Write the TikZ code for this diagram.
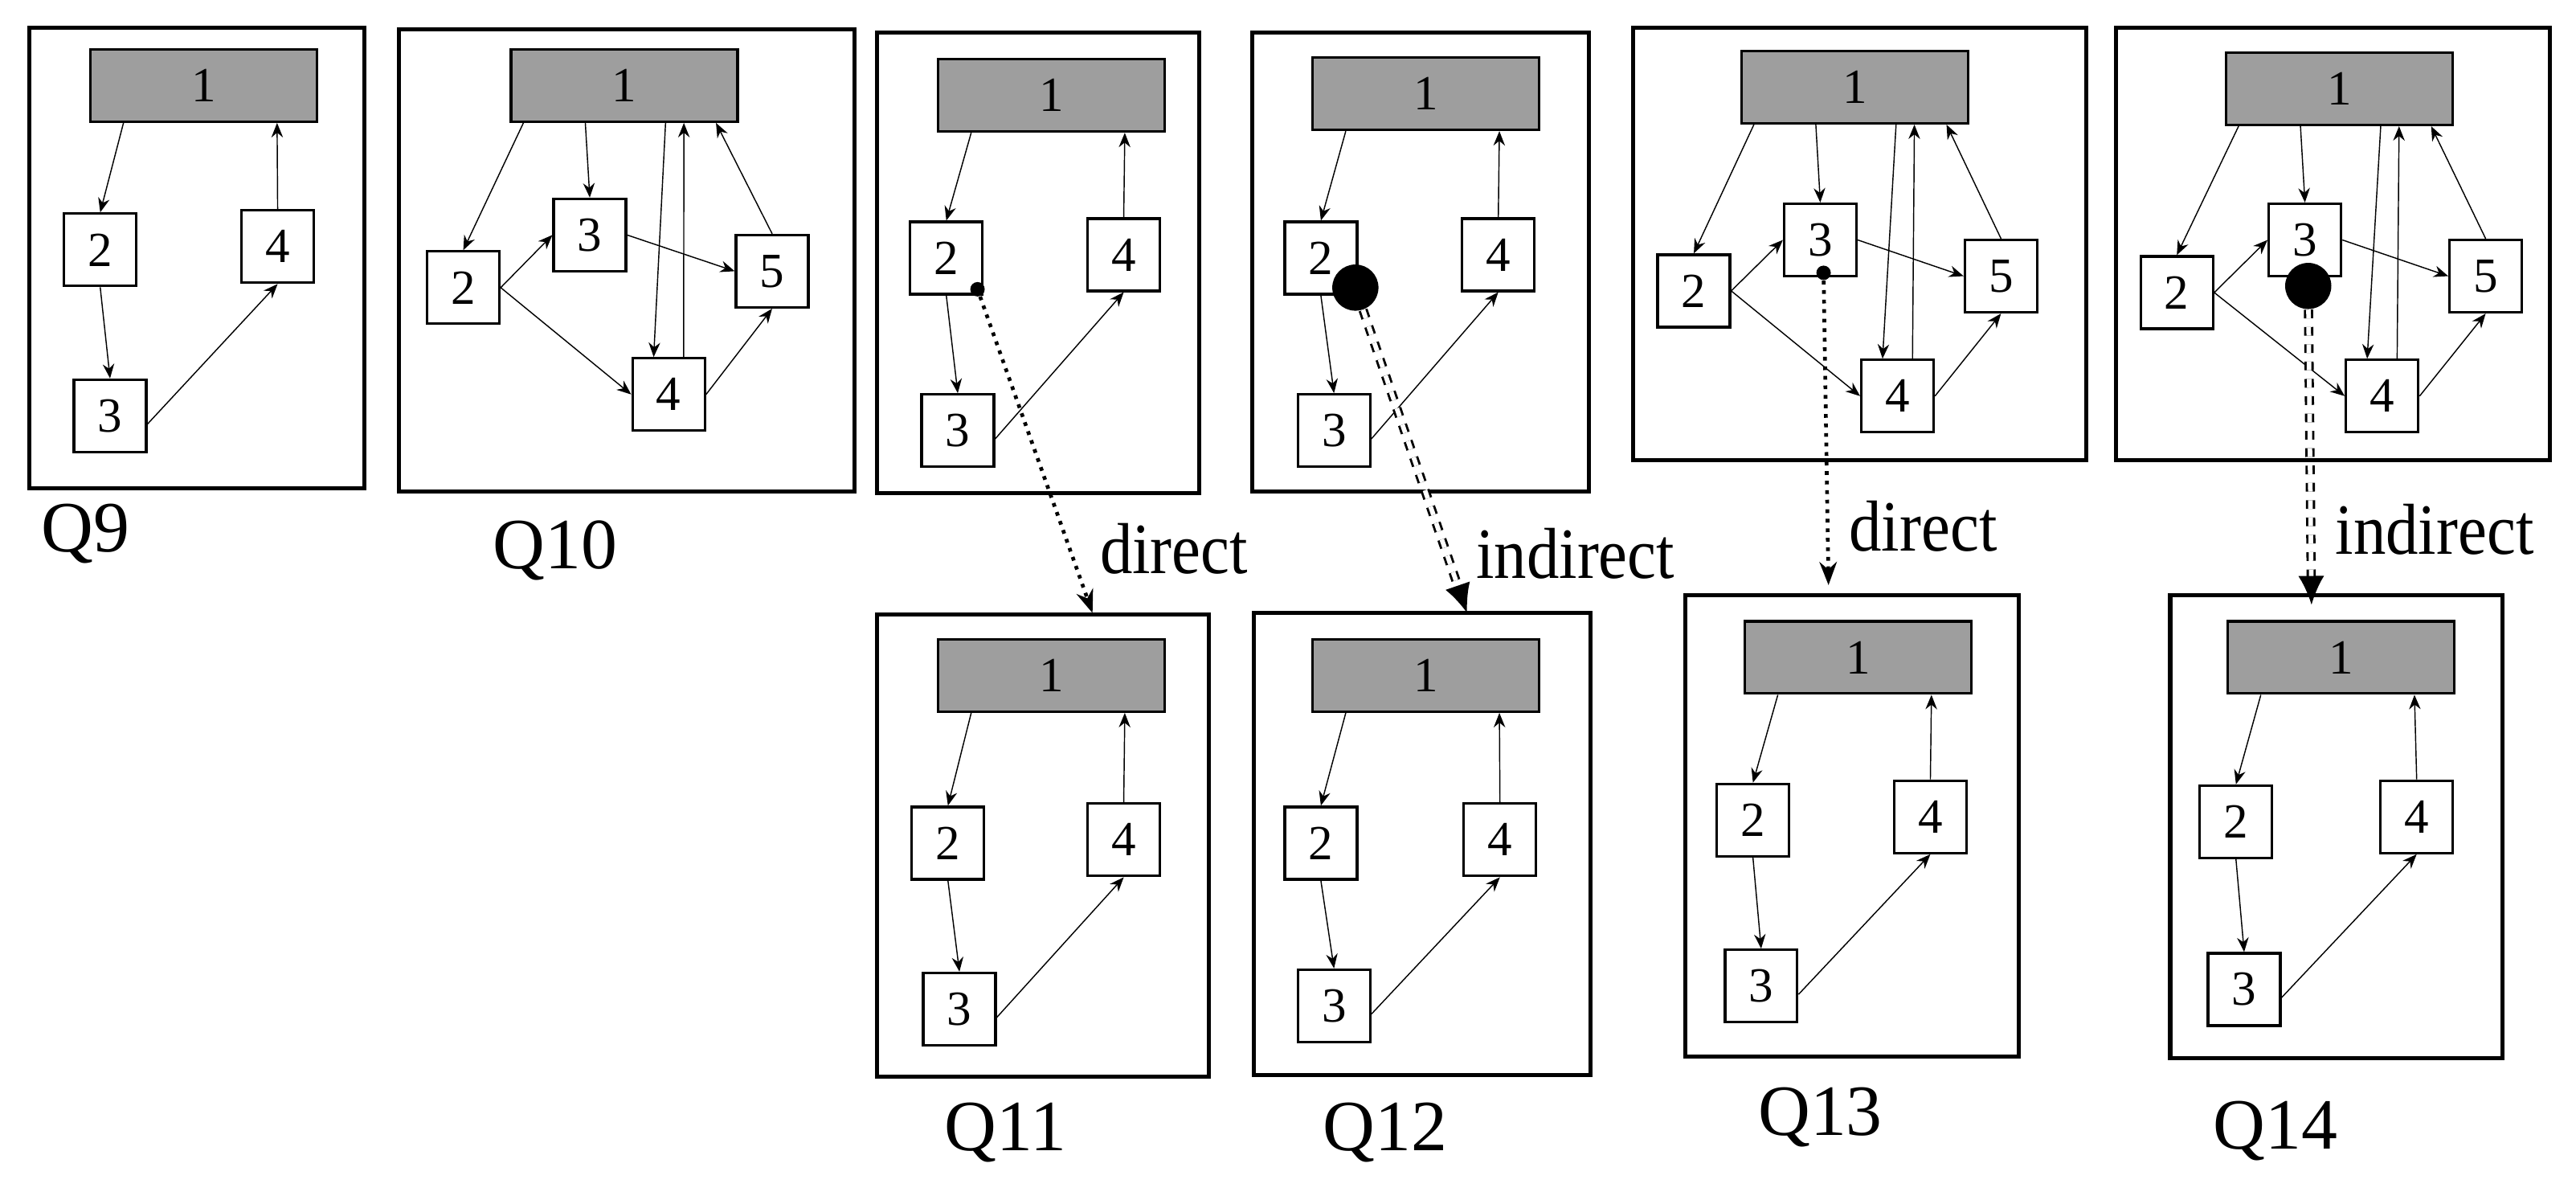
\documentclass[tikz,border=0pt]{standalone}
\usepackage{fontspec}
\setmainfont{Liberation Serif}
\usetikzlibrary{arrows.meta,calc}
\begin{document}
\begin{tikzpicture}[x=0.02cm,y=-0.02cm,
  frame/.style={draw,line width=1.4pt},
  big/.style={draw,line width=0.9pt,fill=black!38,minimum width=2.76cm,minimum height=0.88cm,font=\fontsize{17}{17}\selectfont},
  sm/.style={draw,line width=0.9pt,fill=white,minimum width=0.88cm,minimum height=0.88cm,font=\fontsize{17}{17}\selectfont},
  ed/.style={-{Stealth[length=5pt,width=4pt]},line width=0.4pt},
  qlab/.style={font=\fontsize{25}{25}\selectfont},
  rlab/.style={font=\fontsize{25}{25}\selectfont,anchor=west,xscale=0.9},
  dir/.style={line width=1.3pt,dotted,-{Stealth[length=8pt,width=6pt]}},
  ind/.style={double,double distance=1.6pt,line width=0.8pt,dashed,-{Latex[length=10pt,width=9pt]}},
  ]
\useasboundingbox (0,0) rectangle (1568,725);
\newcommand{\fourq}[9]{% prefix, fx1,fy1,fx2,fy2, c1, c2, c3, c4
  \draw[frame] (#2,#3) rectangle (#4,#5);
  \node[big] (#1a) at (#6) {1};
  \node[sm] (#1b) at (#7) {2};
  \node[sm] (#1c) at (#8) {3};
  \node[sm] (#1d) at (#9) {4};
  \draw[ed] ($(#1a.south west)!0.15!(#1a.south east)$) -- (#1b.north);
  \draw[ed] (#1b.south) -- (#1c.north);
  \draw[ed] (#1c.east) ++(0,5) -- (#1d.south);
  \draw[ed] (#1d.north) -- ($(#1a.south west)!0.82!(#1a.south east)$);
}
\newcommand{\fiveq}[9]{%
  \draw[frame] (#2,#3) rectangle (#4,#5);
  \node[big] (#1a) at (#6) {1};
  \node[sm] (#1b) at (#7) {2};
  \node[sm] (#1c) at (#8) {3};
  \node[sm] (#1d) at (#9) {4};
}
\newcommand{\fiveedges}[2]{%
  \node[sm] (#1e) at (#2) {5};
  \draw[ed] ($(#1a.south west)!0.06!(#1a.south east)$) -- (#1b.north);
  \draw[ed] ($(#1a.south west)!0.33!(#1a.south east)$) -- (#1c.north);
  \draw[ed] ($(#1a.south west)!0.68!(#1a.south east)$) -- ($(#1d.north west)!0.3!(#1d.north east)$);
  \draw[ed] ($(#1d.north west)!0.7!(#1d.north east)$) -- ($(#1a.south west)!0.76!(#1a.south east)$);
  \draw[ed] (#1e.north) -- ($(#1a.south west)!0.9!(#1a.south east)$);
  \draw[ed] (#1b.east) -- (#1c.west);
  \draw[ed] (#1b.east) -- (#1d.west);
  \draw[ed] (#1c.east) -- (#1e.west);
  \draw[ed] (#1d.east) -- (#1e.south);
}
% Q9
\fourq{n}{18}{17}{222}{297}{124,52}{61,152}{67,253}{169,150}
\node[qlab] (l9) at (52,325) {Q9};
% Q10
\fiveq{t}{243}{18}{520}{299}{380,52}{282,175}{359,143}{407,240}
\fiveedges{t}{470,165}
\node[qlab] (l10) at (338,335) {Q10};
% Q11
\fourq{ea}{534}{20}{730}{300}{640,58}{576,157}{583,262}{684,155}
\fourq{eb}{534}{374}{736}{655}{640,411}{577,513}{584,614}{684,511}
\node[qlab] (l11) at (612,689) {Q11};
\node[circle,fill,inner sep=0pt,minimum size=5pt] (d11) at (595,176) {};
\coordinate (e11) at (665,373);
\draw[dir] (d11) -- (e11);
\node[rlab] (t11) at (664,334) {direct};
% Q12
\fourq{wa}{762}{20}{967}{299}{868,57}{804,157}{812,262}{912,155}
\fourq{wb}{763}{373}{968}{654}{868,411}{804,513}{812,612}{913,511}
\node[qlab] (l12) at (843,689) {Q12};
\node[circle,fill,inner sep=0pt,minimum size=16pt] (d12) at (825,175) {};
\coordinate (e12) at (893,373);
\draw[ind] (d12) -- (e12);
\node[rlab] (t12) at (893,337) {indirect};
% Q13
\fiveq{ha}{994}{17}{1270}{280}{1129,53}{1031,177}{1108,146}{1155,241}
\fiveedges{ha}{1218,168}
\fourq{hb}{1026}{362}{1229}{643}{1131,400}{1067,499}{1072,600}{1175,497}
\node[qlab] (l13) at (1108,680) {Q13};
\node[circle,fill,inner sep=0pt,minimum size=5pt] (d13) at (1110,166) {};
\coordinate (e13) at (1113,356);
\draw[dir] (d13) -- (e13);
\node[rlab] (t13) at (1120,320) {direct};
% Q14
\fiveq{fa}{1288}{17}{1552}{280}{1424,54}{1325,178}{1403,146}{1450,241}
\fiveedges{fa}{1513,168}
\fourq{fb}{1321}{362}{1523}{644}{1425,400}{1361,500}{1366,602}{1471,497}
\node[qlab] (l14) at (1385,688) {Q14};
\node[circle,fill,inner sep=0pt,minimum size=16pt] (d14) at (1405,174) {};
\coordinate (e14) at (1407,368);
\draw[ind] (d14) -- (e14);
\node[rlab] (t14) at (1416,322) {indirect};
\end{tikzpicture}
\end{document}
